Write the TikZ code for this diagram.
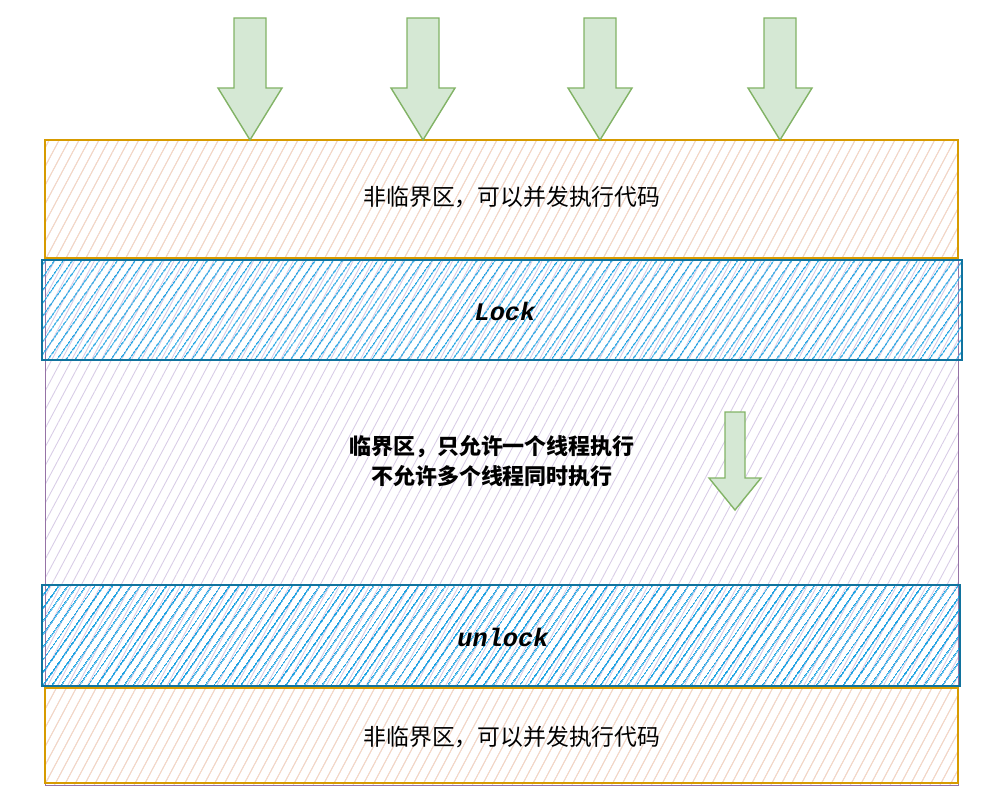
\documentclass[tikz,border=0pt]{standalone}
\usepackage{fontspec}
\setmainfont{Noto Sans CJK SC}
\newfontfamily\codefont{Liberation Mono}
\usetikzlibrary{patterns.meta}
\definecolor{arrowline}{HTML}{82B366}
\definecolor{arrowfill}{HTML}{D5E8D4}
\definecolor{freeline}{HTML}{D79B00}
\definecolor{freefill}{HTML}{F8D9BF}
\definecolor{lockline}{HTML}{10739E}
\definecolor{lockfill}{HTML}{1BA1E2}
\definecolor{critline}{HTML}{9673A6}
\definecolor{critfill}{HTML}{D8CCE6}
\tikzset{
  freezone/.style={draw=freeline, thick, pattern={Lines[angle=62,distance=5pt,line width=0.5pt]}, pattern color=freefill},
  lockzone/.style={draw=lockline, line width=1.2pt, pattern={Lines[angle=55,distance=4pt,line width=0.7pt]}, pattern color=lockfill},
  critzone/.style={draw=critline, pattern={Lines[angle=62,distance=5pt,line width=0.5pt]}, pattern color=critfill},
  codelabel/.style={font=\codefont\bfseries\itshape\Large},
  textlabel/.style={font=\fontsize{13}{16}\selectfont, align=center},
  flow/.pic={
    \draw[arrowline, thick, fill=arrowfill]
      (-16,0) -- (16,0) -- (16,70) -- (32,70) -- (0,122) -- (-32,70) -- (-16,70) -- cycle;
  },
  smallflow/.pic={
    \draw[arrowline, thick, fill=arrowfill]
      (-10,0) -- (10,0) -- (10,66) -- (26,66) -- (0,98) -- (-26,66) -- (-10,66) -- cycle;
  }
}
\begin{document}
\begin{tikzpicture}[x=0.02cm, y=-0.02cm]
    \useasboundingbox (0,0) rectangle (985,794);
    % Critical section background
    \draw[critzone] (45,140) rectangle (958,785);
    % Free zones
    \draw[freezone] (45,140) rectangle (958,258);
    \draw[freezone] (45,688) rectangle (958,783);
    % Lock and unlock bands
    \draw[lockzone] (42,260) rectangle (962,360);
    \draw[lockzone] (42,585) rectangle (960,686);
    % Labels
    \node[textlabel] (topfree) at (512,197) {非临界区，可以并发执行代码};
    \node[codelabel] (lock) at (505,311) {Lock};
    \node[textlabel, font=\fontsize{12.5}{17}\selectfont\bfseries] (crit) at (492,461) {临界区，只允许一个线程执行\\不允许多个线程同时执行};
    \node[codelabel] (unlock) at (503,637) {unlock};
    \node[textlabel] (botfree) at (512,737) {非临界区，可以并发执行代码};
    % Incoming threads
    \foreach \xa in {250,423,600,780}
      \pic at (\xa,18) {flow};
    \pic at (735,412) {smallflow};
\end{tikzpicture}
\end{document}
